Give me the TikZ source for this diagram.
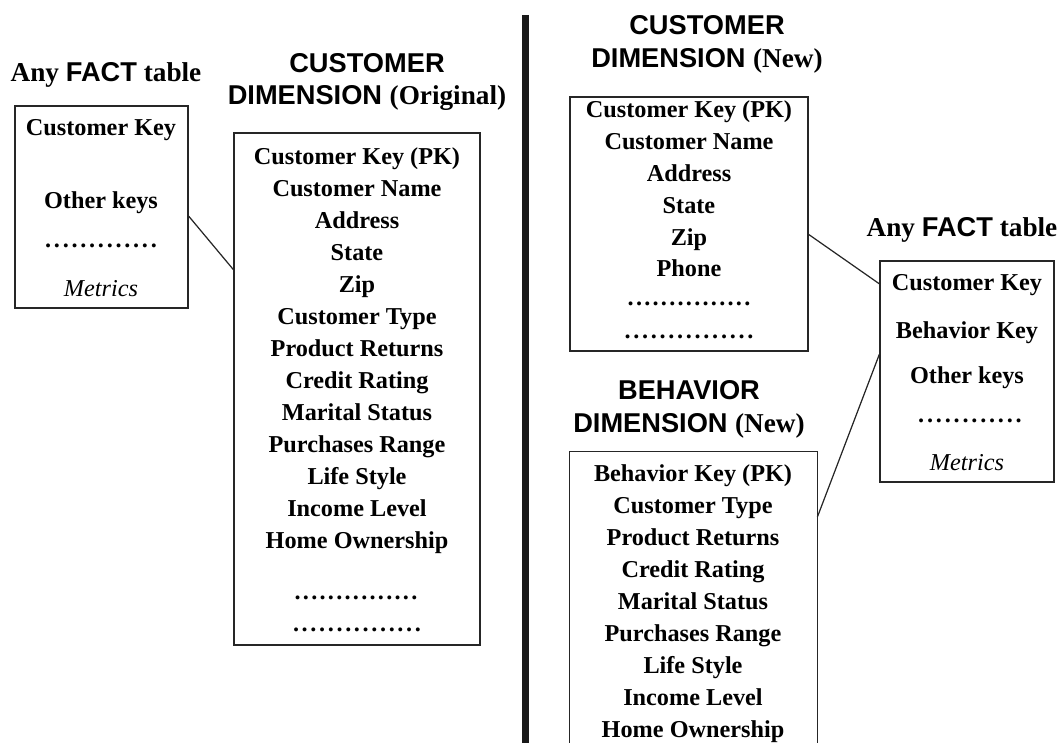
\documentclass[tikz,border=0pt]{standalone}
\usepackage{fontspec}
\setmainfont{Liberation Serif}
\setsansfont{Liberation Sans}
\usetikzlibrary{positioning, fit}

\newcommand{\dotsrow}[1]{\makebox[#1]{\xleaders\hbox to 4.7pt{\hss.\hss}\hfill}}

\begin{document}
\begin{tikzpicture}[
    x=0.02cm, y=-0.02cm,
    tbl/.style={draw=black!85, line width=0.8pt, inner sep=0pt},
    row/.style={font=\fontsize{13.8}{16}\selectfont\bfseries, inner sep=0pt,
                text height=10pt, text depth=1pt},
    head/.style={font=\fontsize{15.5}{18.7}\selectfont\bfseries, align=center, inner sep=0pt},
    link/.style={draw=black!85, line width=0.7pt}
]
\useasboundingbox (0,0) rectangle (1062,743);

% --- Left: fact table ---
\node[head] (facthead1) at (106,75) {Any {\sffamily FACT} table};
\node[tbl, fit={(15,106) (188,308)}] (fact1) {};
\node[row] (fact1-a) at (101,128) {Customer Key};
\node[row] (fact1-b) at (101,201) {Other keys};
\node[row] (fact1-c) at (101,240) {\dotsrow{2.3cm}};
\node[row, font=\fontsize{13.8}{16}\selectfont\itshape] (fact1-d) at (101,289) {Metrics};

% --- Left: original customer dimension ---
\node[head] (orighead) at (367,82) {\sffamily CUSTOMER\\\sffamily DIMENSION \rmfamily(Original)};
\node[tbl, fit={(234,133) (480,645)}] (orig) {};
\foreach \txt [count=\i from 0] in {Customer Key (PK), Customer Name, Address, State, Zip,
    Customer Type, Product Returns, Credit Rating, Marital Status, Purchases Range,
    Life Style, Income Level, Home Ownership}
  \node[row] (orig-\i) at (357,157+32*\i) {\txt};
\node[row] (orig-d1) at (356,592) {\dotsrow{2.5cm}};
\node[row] (orig-d2) at (357,624) {\dotsrow{2.62cm}};

\draw[link] (fact1.-6.6) -- (orig.136);

% --- Divider ---
\coordinate (divtop) at (525.5,15);
\coordinate (divbot) at (525.5,743);
\draw[line width=4pt, black!90] (divtop) -- (divbot);

% --- Right: new customer dimension ---
\node[head] (newhead) at (707,44) {\sffamily CUSTOMER\\\sffamily DIMENSION \rmfamily(New)};
\node[tbl, fit={(570,97) (808,351)}] (newcust) {};
\foreach \txt [count=\i from 0] in {Customer Key (PK), Customer Name, Address, State, Zip, Phone}
  \node[row] (newcust-\i) at (689,110+31.8*\i) {\txt};
\node[row] (newcust-d1) at (689,298) {\dotsrow{2.5cm}};
\node[row] (newcust-d2) at (689,331) {\dotsrow{2.64cm}};

% --- Right: fact table ---
\node[head] (facthead2) at (962,230) {Any {\sffamily FACT} table};
\node[tbl, fit={(880,261) (1054,482)}] (fact2) {};
\node[row] (fact2-a) at (967,283) {Customer Key};
\node[row] (fact2-b) at (967,331) {Behavior Key};
\node[row] (fact2-c) at (967,376) {Other keys};
\node[row] (fact2-d) at (970,415) {\dotsrow{2.14cm}};
\node[row, font=\fontsize{13.8}{16}\selectfont\itshape] (fact2-e) at (967,463) {Metrics};

% --- Right: behavior dimension (runs off the bottom) ---
\node[head] (behhead) at (689,409) {\sffamily BEHAVIOR\\\sffamily DIMENSION \rmfamily(New)};
\node[inner sep=0pt, fit={(570,452) (817,743)}] (behav) {};
\draw[tbl] (behav.south west) |- (behav.north east) -- (behav.south east);
\foreach \txt [count=\i from 0] in {Behavior Key (PK), Customer Type, Product Returns, Credit Rating,
    Marital Status, Purchases Range, Life Style, Income Level, Home Ownership}
  \node[row] (behav-\i) at (693,474+32*\i) {\txt};

\draw[link] (newcust.-5.3) -- (fact2.135.8);
\draw[link] (behav.33.7) -- (fact2.169.3);

\end{tikzpicture}
\end{document}
